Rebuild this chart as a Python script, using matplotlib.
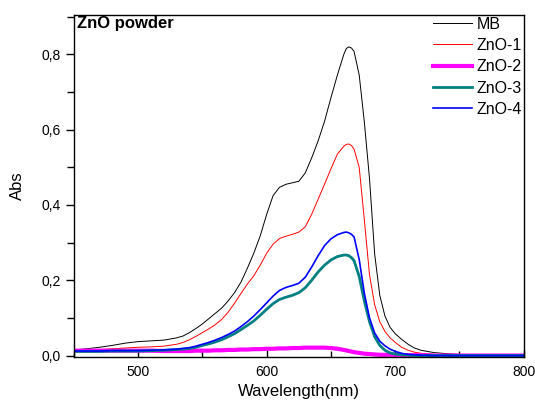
import matplotlib
matplotlib.use("Agg")
import matplotlib.pyplot as plt
from matplotlib.ticker import MultipleLocator, FuncFormatter

plt.rcParams['font.family'] = ['Liberation Sans', 'DejaVu Sans']

# wavelength grid (nm)
wl = [450, 460, 470, 480, 490, 500, 510, 520, 530, 535,
      540, 545, 550, 555, 560, 565, 570, 575, 580, 585,
      590, 595, 600, 605, 610, 615, 620, 625, 630, 635,
      640, 645, 650, 655, 660, 662, 664, 666, 668, 672, 676, 680,
      684, 688, 692, 696, 700, 705, 710, 715, 720, 730,
      740, 750, 760, 780, 800]

mb = [0.015, 0.018, 0.022, 0.027, 0.033, 0.037, 0.039, 0.041, 0.047, 0.052,
      0.061, 0.072, 0.084, 0.098, 0.112, 0.126, 0.145, 0.167, 0.195, 0.232,
      0.272, 0.318, 0.375, 0.425, 0.447, 0.455, 0.459, 0.463, 0.485, 0.525,
      0.570, 0.622, 0.685, 0.745, 0.800, 0.816, 0.820, 0.817, 0.808, 0.745, 0.620, 0.470,
      0.270, 0.160, 0.105, 0.075, 0.058, 0.043, 0.030, 0.020, 0.014, 0.008,
      0.005, 0.003, 0.002, 0.001, 0.0]

zno1 = [0.013, 0.015, 0.016, 0.018, 0.020, 0.022, 0.023, 0.025, 0.030, 0.035,
        0.042, 0.051, 0.061, 0.071, 0.082, 0.096, 0.115, 0.139, 0.165, 0.190,
        0.212, 0.240, 0.272, 0.296, 0.311, 0.317, 0.322, 0.328, 0.342, 0.375,
        0.415, 0.455, 0.496, 0.535, 0.556, 0.561, 0.562, 0.558, 0.548, 0.500, 0.360, 0.215,
        0.135, 0.090, 0.064, 0.047, 0.035, 0.022, 0.014, 0.009, 0.006, 0.003,
        0.002, 0.001, 0.001, 0.0, 0.0]

zno2 = [0.013, 0.013, 0.013, 0.013, 0.013, 0.013, 0.013, 0.012, 0.012, 0.012,
        0.012, 0.013, 0.013, 0.013, 0.014, 0.014, 0.015, 0.015, 0.016, 0.016,
        0.017, 0.017, 0.018, 0.018, 0.019, 0.019, 0.020, 0.020, 0.021, 0.021,
        0.021, 0.021, 0.020, 0.018, 0.015, 0.0135, 0.012, 0.0105, 0.009, 0.007, 0.005, 0.004,
        0.003, 0.002, 0.002, 0.002, 0.002, 0.001, 0.001, 0.001, 0.001, 0.0,
        0.0, 0.0, 0.0, 0.0, 0.0]

zno3 = [0.011, 0.011, 0.011, 0.012, 0.012, 0.012, 0.013, 0.014, 0.016, 0.017,
        0.019, 0.022, 0.027, 0.031, 0.036, 0.042, 0.050, 0.058, 0.069, 0.080,
        0.092, 0.107, 0.123, 0.138, 0.149, 0.155, 0.160, 0.167, 0.180, 0.200,
        0.222, 0.240, 0.254, 0.263, 0.267, 0.267, 0.265, 0.260, 0.252, 0.210, 0.145, 0.090,
        0.050, 0.027, 0.014, 0.007, 0.004, 0.002, 0.001, 0.0, 0.0, 0.0,
        0.0, 0.0, 0.0, 0.0, 0.0]

zno4 = [0.012, 0.012, 0.012, 0.013, 0.013, 0.013, 0.014, 0.015, 0.017, 0.019,
        0.021, 0.025, 0.030, 0.035, 0.041, 0.048, 0.056, 0.065, 0.077, 0.090,
        0.105, 0.122, 0.140, 0.158, 0.173, 0.181, 0.186, 0.192, 0.208, 0.235,
        0.265, 0.292, 0.310, 0.321, 0.327, 0.328, 0.326, 0.322, 0.315, 0.255, 0.165, 0.100,
        0.060, 0.038, 0.026, 0.017, 0.011, 0.006, 0.003, 0.002, 0.001, 0.0,
        0.0, 0.0, 0.0, 0.0, 0.0]

fig = plt.figure(figsize=(5.35, 4.03), dpi=100)
ax = fig.add_axes([0.138, 0.114, 0.841, 0.849])

ax.plot(wl, mb, color='black', lw=0.7, label='MB')
ax.plot(wl, zno1, color='red', lw=0.7, label='ZnO-1')
ax.plot(wl, zno2, color='#ff00ff', lw=3.0, label='ZnO-2')
ax.plot(wl, zno3, color='#008080', lw=2.0, label='ZnO-3')
ax.plot(wl, zno4, color='blue', lw=1.2, label='ZnO-4')

ax.set_xlim(450, 800)
ax.set_ylim(-0.004, 0.905)

ax.xaxis.set_major_locator(MultipleLocator(100))
ax.xaxis.set_minor_locator(MultipleLocator(50))
ax.yaxis.set_major_locator(MultipleLocator(0.2))
ax.yaxis.set_minor_locator(MultipleLocator(0.1))
ax.yaxis.set_major_formatter(FuncFormatter(lambda v, p: ('%.1f' % v).replace('.', ',')))

ax.tick_params(axis='x', which='both', direction='in', top=False, labelsize=10, pad=6)
ax.tick_params(axis='x', which='major', length=5, width=1)
ax.tick_params(axis='x', which='minor', length=4, width=1)
ax.tick_params(axis='y', which='both', direction='out', right=False, labelsize=10)
ax.tick_params(axis='y', which='major', length=6, width=1)
ax.tick_params(axis='y', which='minor', length=5, width=1)
for s in ax.spines.values():
    s.set_linewidth(1.0)

ax.set_xlabel('Wavelength(nm)', fontsize=12, labelpad=3)
ax.set_ylabel('Abs', fontsize=12, labelpad=12)

ax.text(0.006, 0.998, 'ZnO powder', transform=ax.transAxes, ha='left', va='top',
        fontsize=12, fontweight='bold')

ax.legend(loc='upper right', bbox_to_anchor=(1.0, 1.0), frameon=False,
          borderaxespad=0, borderpad=0.1, handlelength=2.45,
          handletextpad=0.3, labelspacing=0.4, fontsize=11.5)

fig.savefig('out.png', dpi=100)
